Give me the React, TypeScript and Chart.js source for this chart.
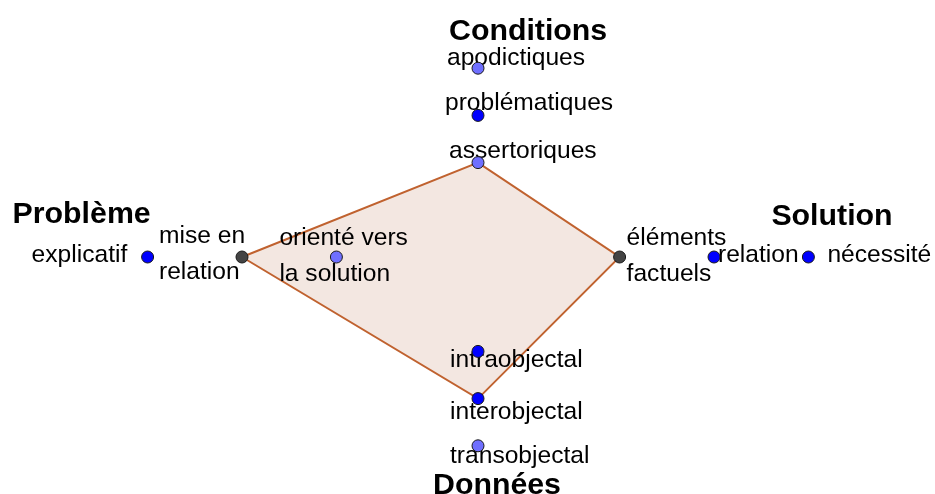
import React, { useEffect, useRef } from "react";
import { Chart, registerables } from "chart.js";

Chart.register(...registerables);

// ---- data ----
const conditionLabels = ["apodictiques", "problématiques", "assertoriques"];
const conditionValues = [4, 3, 2];
const donneesLabels = ["intraobjectal", "interobjectal", "transobjectal"];
const donneesValues = [-2, -3, -4];
const problemeLabels = ["explicatif", "mise en\nrelation", "orienté vers\nla solution"];
const problemeValues = [-7, -5, -3];
const solutionLabels = ["éléments\nfactuels", "relation", "nécessité"];
const solutionValues = [3, 5, 7];
const axisTitles = ["Conditions", "Données", "Problème", "Solution"];
// selected level on each axis: problème, conditions, solution, données
const polygonX = [-5, 0, 3, 0];
const polygonY = [0, 2, 0, -3];

// ---- styles / layout ----
const W = 935;
const H = 494;
const CX = 478;
const CY = 257;
const UNIT = 47.2;
const BLUE = "#0000ff";
const LIGHT = "#6f6fff";
const DARK = "#444444";
const conditionColors = [LIGHT, BLUE, LIGHT];
const donneesColors = [BLUE, BLUE, LIGHT];
const problemeColors = [BLUE, DARK, LIGHT];
const solutionColors = [DARK, BLUE, BLUE];
// label offsets in px: [dx to text left, dy to first baseline]
const conditionOffsets = [[-31, -3], [-33, -5], [-29, -5]];
const donneesOffsets = [[-28, 16], [-28, 20], [-28, 17]];
const problemeOffsets = [[-116, 5], [-83, -14], [-57, -12]];
const solutionOffsets = [[7, -12], [4, 5], [19, 5]];
// title offsets relative to outermost point of each axis
const titleOffsets = [[-29, -28], [-45, 48], [-135, -34], [-37, -32]];
const LABEL_FONT = "24.6px 'Liberation Sans', Arial, sans-serif";
const TITLE_FONT = "bold 30.3px 'Liberation Sans', Arial, sans-serif";
const LINE_H = 36;

export default function App() {
  const ref = useRef<HTMLCanvasElement>(null);
  useEffect(() => {
    document.body.style.margin = "0";
    const canvas = ref.current!;
    const points: { x: number; y: number }[] = [];
    const colors: string[] = [];
    const labels: string[] = [];
    const offsets: number[][] = [];
    conditionValues.forEach((v, i) => {
      points.push({ x: 0, y: v });
      colors.push(conditionColors[i]);
      labels.push(conditionLabels[i]);
      offsets.push(conditionOffsets[i]);
    });
    donneesValues.forEach((v, i) => {
      points.push({ x: 0, y: v });
      colors.push(donneesColors[i]);
      labels.push(donneesLabels[i]);
      offsets.push(donneesOffsets[i]);
    });
    problemeValues.forEach((v, i) => {
      points.push({ x: v, y: 0 });
      colors.push(problemeColors[i]);
      labels.push(problemeLabels[i]);
      offsets.push(problemeOffsets[i]);
    });
    solutionValues.forEach((v, i) => {
      points.push({ x: v, y: 0 });
      colors.push(solutionColors[i]);
      labels.push(solutionLabels[i]);
      offsets.push(solutionOffsets[i]);
    });
    const titleAnchors = [
      { x: 0, y: conditionValues[0] },
      { x: 0, y: donneesValues[2] },
      { x: problemeValues[0], y: 0 },
      { x: solutionValues[2], y: 0 },
    ];
    const poly = polygonX.map((x, i) => ({ x, y: polygonY[i] }));
    poly.push({ ...poly[0] });

    const labelPlugin = {
      id: "labels",
      afterDatasetDraw(chart: any, args: any) {
        if (args.index !== 0) return;
        const ctx = chart.ctx;
        const xs = chart.scales.x;
        const ys = chart.scales.y;
        ctx.save();
        ctx.fillStyle = "#000";
        ctx.textBaseline = "alphabetic";
        ctx.textAlign = "left";
        ctx.font = LABEL_FONT;
        points.forEach((p, i) => {
          const px = xs.getPixelForValue(p.x);
          const py = ys.getPixelForValue(p.y);
          labels[i].split("\n").forEach((line, j) => {
            ctx.fillText(line, px + offsets[i][0], py + offsets[i][1] + j * LINE_H);
          });
        });
        ctx.font = TITLE_FONT;
        titleAnchors.forEach((a, i) => {
          const px = xs.getPixelForValue(a.x);
          const py = ys.getPixelForValue(a.y);
          ctx.fillText(axisTitles[i], px + titleOffsets[i][0], py + titleOffsets[i][1]);
        });
        ctx.restore();
      },
    };

    const chart = new Chart(canvas, {
      type: "scatter",
      data: {
        datasets: [
          {
            data: poly,
            showLine: true,
            fill: "shape",
            backgroundColor: "rgba(234,212,200,0.55)",
            borderColor: "#c0622f",
            borderWidth: 2,
            pointRadius: 0,
            order: 1,
            clip: false,
          } as any,
          {
            data: points,
            pointRadius: 6,
            pointBackgroundColor: colors,
            pointBorderColor: "#1a1a1a",
            pointBorderWidth: 1,
            order: 0,
            clip: false,
          } as any,
        ],
      },
      options: {
        animation: false,
        responsive: false,
        maintainAspectRatio: false,
        layout: { padding: 0, autoPadding: false },
        plugins: { legend: { display: false }, tooltip: { enabled: false } },
        events: [],
        scales: {
          x: { type: "linear", display: false, min: -CX / UNIT, max: (W - CX) / UNIT },
          y: { type: "linear", display: false, min: -(H - CY) / UNIT, max: CY / UNIT },
        },
      },
      plugins: [labelPlugin],
    });
    return () => chart.destroy();
  }, []);
  return (
    <div style={{ width: W, height: H, background: "#fff" }}>
      <canvas ref={ref} width={W} height={H} />
    </div>
  );
}
